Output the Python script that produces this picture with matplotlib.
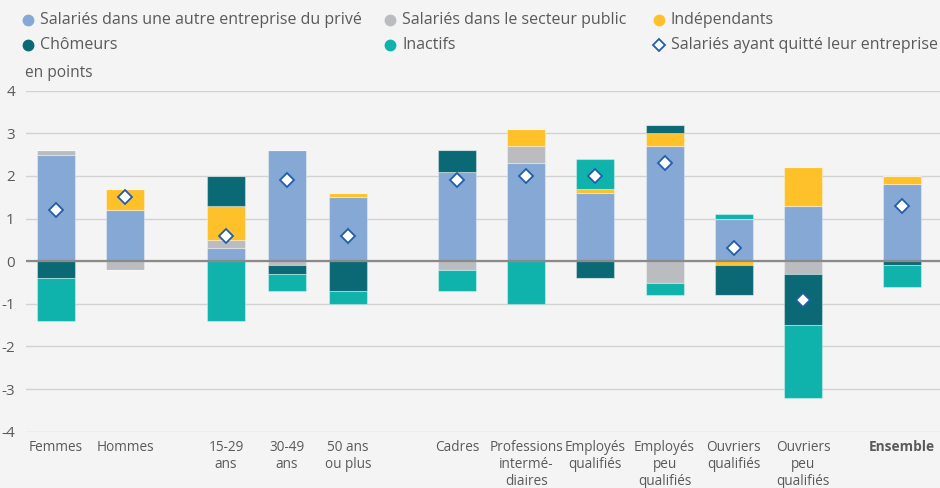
import matplotlib
matplotlib.use("Agg")
import matplotlib.pyplot as plt
from matplotlib.lines import Line2D
import numpy as np

plt.rcParams['font.family'] = ['Open Sans', 'DejaVu Sans']

categories = ["Femmes", "Hommes", "15-29\nans", "30-49\nans", "50 ans\nou plus",
              "Cadres", "Professions\ninterm\u00e9-\ndiaires", "Employ\u00e9s\nqualifi\u00e9s",
              "Employ\u00e9s\npeu\nqualifi\u00e9s", "Ouvriers\nqualifi\u00e9s",
              "Ouvriers\npeu\nqualifi\u00e9s", "Ensemble"]
group_sizes = [2, 3, 6, 1]

prive = [2.5, 1.2, 0.3, 2.6, 1.5, 2.1, 2.3, 1.6, 2.7, 1.0, 1.3, 1.8]
public = [0.1, -0.2, 0.2, -0.1, 0.0, -0.2, 0.4, 0.0, -0.5, 0.0, -0.3, 0.0]
independants = [0.0, 0.5, 0.8, 0.0, 0.1, 0.0, 0.4, 0.1, 0.3, -0.1, 0.9, 0.2]
chomeurs = [-0.4, 0.0, 0.7, -0.2, -0.7, 0.5, 0.0, -0.4, 0.2, -0.7, -1.2, -0.1]
inactifs = [-1.0, 0.0, -1.4, -0.4, -0.3, -0.5, -1.0, 0.7, -0.3, 0.1, -1.7, -0.5]
quitte = [1.2, 1.5, 0.6, 1.9, 0.6, 1.9, 2.0, 2.0, 2.3, 0.3, -0.9, 1.3]

series_names = ["Salari\u00e9s dans une autre entreprise du priv\u00e9",
                "Salari\u00e9s dans le secteur public", "Ind\u00e9pendants",
                "Ch\u00f4meurs", "Inactifs"]
marker_name = "Salari\u00e9s ayant quitt\u00e9 leur entreprise"
yticks = [4, 3, 2, 1, 0, -1, -2, -3, -4]
unit_label = "en points"

colors = ["#86A8D4", "#BBBCC0", "#FFC12A", "#0B6975", "#10B3AC"]
txt = "#5a5a5a"

W, H = 940, 488
fig = plt.figure(figsize=(W / 100, H / 100), dpi=100)
fig.patch.set_facecolor("#F4F4F4")
ax_left, ax_right, ax_top, ax_bot = 26, 940, 90.7, 431.7
ax = fig.add_axes([ax_left / W, 1 - ax_bot / H, (ax_right - ax_left) / W, (ax_bot - ax_top) / H])
ax.set_facecolor("#F4F4F4")

# layout: group starts and step (pixel-like units)
group_starts = [56, 226, 457, 902]
group_steps = [69, 61, 69.2, 0]
xs = []
for s, st, n in zip(group_starts, group_steps, group_sizes):
    xs.extend([s + i * st for i in range(n)])
xs = np.array(xs)
bw = 38

data = [np.array(v) for v in (prive, public, independants, chomeurs, inactifs)]
pos_base = np.zeros(len(xs))
neg_base = np.zeros(len(xs))
for vals, c in zip(data, colors):
    pos = np.where(vals > 0, vals, 0)
    neg = np.where(vals < 0, vals, 0)
    ax.bar(xs, pos, bw, bottom=pos_base, color=c, edgecolor=(1, 1, 1, 0.35), linewidth=0.8, zorder=3)
    ax.bar(xs, neg, bw, bottom=neg_base, color=c, edgecolor=(1, 1, 1, 0.35), linewidth=0.8, zorder=3)
    pos_base += pos
    neg_base += neg

ax.axhline(0, color="#8a8a8a", lw=1.6, zorder=4)
ax.plot(xs, quitte, linestyle="none", marker="D", markersize=7, markerfacecolor="white",
        markeredgecolor="#1F5DAE", markeredgewidth=1.3, zorder=5)

ax.set_xlim(ax_left, ax_right)
ax.set_ylim(-4, 4)
ax.set_yticks(yticks)
ax.set_yticklabels([str(t) for t in yticks])
ax.grid(axis="y", color="#D2D2D2", lw=1, zorder=0)
ax.set_axisbelow(True)
for s in ax.spines.values():
    s.set_visible(False)
ax.tick_params(axis="y", length=0, pad=8, labelsize=11, labelcolor=txt)
ax.tick_params(axis="x", length=0, pad=6, labelsize=9.8, labelcolor=txt)
ax.set_xticks(xs)
ax.set_xticklabels(categories, linespacing=1.2)
ax.get_xticklabels()[-1].set_fontweight("bold")

fig.text(25 / W, 1 - 73 / H, unit_label, fontsize=11.2, color=txt, va="center", ha="left")

# legend
leg_pos = [(28, 20), (390, 20), (659, 20), (28, 45), (390, 45)]
order = [0, 1, 2, 3, 4]
for (px, py), i in zip(leg_pos, order):
    fig.add_artist(Line2D([px / W], [1 - py / H], marker="o", markersize=7.5, color=colors[i],
                          linestyle="none", transform=fig.transFigure))
    fig.text((px + 12) / W, 1 - py / H, series_names[i], fontsize=11.5, color=txt, va="center", ha="left")
px, py = 659, 45
fig.add_artist(Line2D([px / W], [1 - py / H], marker="D", markersize=6.5, markerfacecolor="white",
                      markeredgecolor="#1F5DAE", markeredgewidth=1.3, linestyle="none",
                      transform=fig.transFigure))
fig.text((px + 12) / W, 1 - py / H, marker_name, fontsize=11.5, color=txt, va="center", ha="left")

fig.savefig("out.png", dpi=100, facecolor=fig.get_facecolor())
